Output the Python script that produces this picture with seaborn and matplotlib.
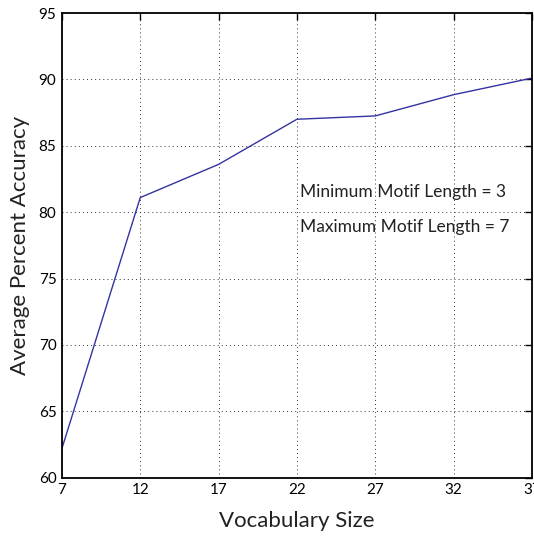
import matplotlib
matplotlib.use("Agg")
import matplotlib.pyplot as plt
import seaborn as sns
import pandas as pd

vocab_size = [7, 12, 17, 22, 27, 32, 37]
accuracy = [62.2, 81.1, 83.6, 87.0, 87.25, 88.85, 90.1]
x_ticks = [7, 12, 17, 22, 27, 32, 37]
y_ticks = [60, 65, 70, 75, 80, 85, 90, 95]
annotations = ["Minimum Motif Length = 3", "Maximum Motif Length = 7"]

sns.set_theme(style="white")
plt.rcParams['font.family'] = ['Lato', 'DejaVu Sans']

df = pd.DataFrame({"Vocabulary Size": vocab_size, "Accuracy": accuracy})

fig = plt.figure(figsize=(5.34, 5.44), dpi=100)
ax = fig.add_axes([0.116, 0.122, 0.88, 0.854])
sns.lineplot(data=df, x="Vocabulary Size", y="Accuracy", ax=ax, color="#3333a0", linewidth=1.0)

ax.set_xlim(7, 37)
ax.set_ylim(60, 95)
ax.set_xticks(x_ticks)
ax.set_yticks(y_ticks)
ax.grid(True, linestyle=(0, (1, 3.2)), color="#333333", linewidth=0.7)
ax.tick_params(direction="in", length=5, width=1, top=True, right=True, labelsize=11, colors="black", pad=4)
for s in ax.spines.values():
    s.set_color("black")
    s.set_linewidth(1.3)
ax.set_xlabel("Vocabulary Size", fontsize=16, labelpad=10, color="#222222")
ax.set_ylabel("Average Percent Accuracy", fontsize=16, labelpad=6, color="#222222")

ax.text(22.2, 81.5, annotations[0], fontsize=12.5, va="center", ha="left", color="#222222")
ax.text(22.2, 78.9, annotations[1], fontsize=12.5, va="center", ha="left", color="#222222")

fig.savefig("out.png", dpi=100)
